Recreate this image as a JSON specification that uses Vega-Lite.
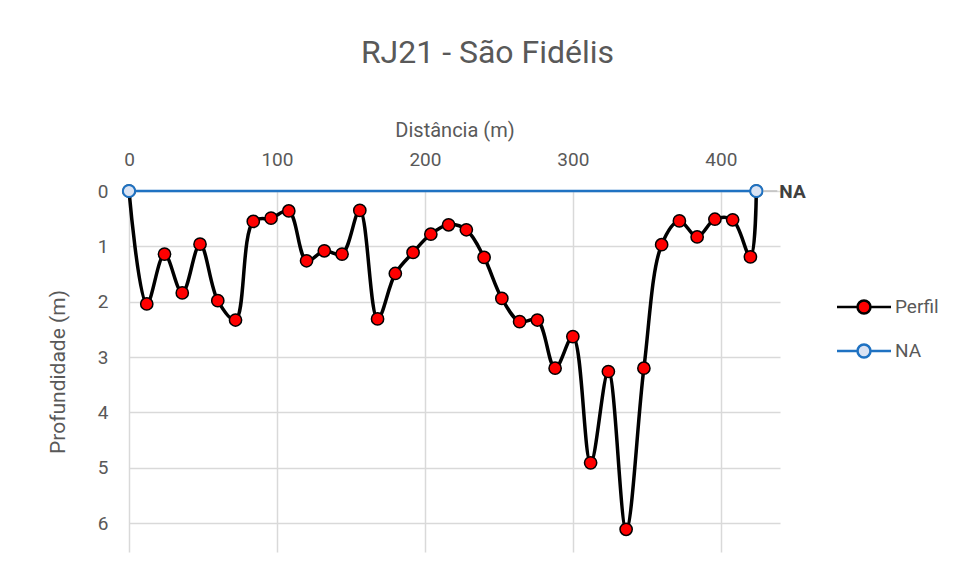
{
  "$schema": "https://vega.github.io/schema/vega-lite/v6.json",
  "width": 651,
  "height": 361,
  "autosize": {"type": "none"},
  "padding": {"left": 129, "top": 191, "right": 174, "bottom": 22},
  "background": "white",
  "title": {
    "text": "RJ21 - São Fidélis",
    "font": "Roboto",
    "fontSize": 32,
    "fontWeight": "normal",
    "color": "#595959",
    "anchor": "middle",
    "frame": "group",
    "dx": 33,
    "offset": 50
  },
  "config": {
    "view": {"stroke": null},
    "font": "Roboto"
  },
  "data": {
    "values": [
      {"serie": "Perfil", "d": 0, "p": 0},
      {"serie": "Perfil", "d": 12, "p": 2.04},
      {"serie": "Perfil", "d": 24, "p": 1.14},
      {"serie": "Perfil", "d": 36, "p": 1.84},
      {"serie": "Perfil", "d": 48, "p": 0.96},
      {"serie": "Perfil", "d": 60, "p": 1.98},
      {"serie": "Perfil", "d": 72, "p": 2.33},
      {"serie": "Perfil", "d": 84, "p": 0.55},
      {"serie": "Perfil", "d": 96, "p": 0.49},
      {"serie": "Perfil", "d": 108, "p": 0.36},
      {"serie": "Perfil", "d": 120, "p": 1.26},
      {"serie": "Perfil", "d": 132, "p": 1.08},
      {"serie": "Perfil", "d": 144, "p": 1.14},
      {"serie": "Perfil", "d": 156, "p": 0.35},
      {"serie": "Perfil", "d": 168, "p": 2.31},
      {"serie": "Perfil", "d": 180, "p": 1.49},
      {"serie": "Perfil", "d": 192, "p": 1.11},
      {"serie": "Perfil", "d": 204, "p": 0.78},
      {"serie": "Perfil", "d": 216, "p": 0.61},
      {"serie": "Perfil", "d": 228, "p": 0.7},
      {"serie": "Perfil", "d": 240, "p": 1.2},
      {"serie": "Perfil", "d": 252, "p": 1.94},
      {"serie": "Perfil", "d": 264, "p": 2.36},
      {"serie": "Perfil", "d": 276, "p": 2.33},
      {"serie": "Perfil", "d": 288, "p": 3.2},
      {"serie": "Perfil", "d": 300, "p": 2.63},
      {"serie": "Perfil", "d": 312, "p": 4.91},
      {"serie": "Perfil", "d": 324, "p": 3.26},
      {"serie": "Perfil", "d": 336, "p": 6.11},
      {"serie": "Perfil", "d": 348, "p": 3.2},
      {"serie": "Perfil", "d": 360, "p": 0.97},
      {"serie": "Perfil", "d": 372, "p": 0.54},
      {"serie": "Perfil", "d": 384, "p": 0.83},
      {"serie": "Perfil", "d": 396, "p": 0.51},
      {"serie": "Perfil", "d": 408, "p": 0.52},
      {"serie": "Perfil", "d": 420, "p": 1.19},
      {"serie": "Perfil", "d": 424, "p": 0},
      {"serie": "NA", "d": 0, "p": 0},
      {"serie": "NA", "d": 424, "p": 0}
    ]
  },
  "encoding": {
    "x": {
      "field": "d",
      "type": "quantitative",
      "scale": {"domain": [0, 440], "nice": false, "zero": false},
      "axis": {
        "orient": "top",
        "title": "Distância (m)",
        "values": [0, 100, 200, 300, 400],
        "ticks": false,
        "domain": false,
        "grid": true,
        "gridColor": "#d9d9d9",
        "gridWidth": 1.5,
        "labelFlush": false,
        "labelFont": "Roboto",
        "labelFontSize": 19,
        "labelColor": "#595959",
        "labelPadding": 22,
        "titleFont": "Roboto",
        "titleFontSize": 20,
        "titleFontWeight": "normal",
        "titleColor": "#595959",
        "titlePadding": 10
      }
    },
    "y": {
      "field": "p",
      "type": "quantitative",
      "scale": {"domain": [0, 6.52], "nice": false, "zero": false, "reverse": true},
      "axis": {
        "title": "Profundidade (m)",
        "values": [0, 1, 2, 3, 4, 5, 6],
        "ticks": false,
        "domain": false,
        "grid": true,
        "gridColor": "#d9d9d9",
        "gridWidth": 1.5,
        "labelFlush": false,
        "labelFont": "Roboto",
        "labelFontSize": 19,
        "labelColor": "#595959",
        "labelPadding": 21,
        "titleFont": "Roboto",
        "titleFontSize": 21,
        "titleFontWeight": "normal",
        "titleColor": "#595959",
        "titlePadding": 29
      }
    }
  },
  "layer": [
    {
      "transform": [{"filter": "datum.serie === 'Perfil'"}],
      "mark": {"type": "line", "interpolate": "catmull-rom", "strokeWidth": 3.5},
      "encoding": {
        "stroke": {
          "field": "serie",
          "type": "nominal",
          "scale": {"domain": ["Perfil", "NA"], "range": ["#000000", "#1f72c2"]},
          "legend": {
            "title": null,
            "orient": "none",
            "legendX": 720,
            "legendY": 101,
            "symbolType": "M-2,0L-0.48,0M0.48,0L2,0M0.48,0A0.48,0.48,0,1,1,-0.48,0A0.48,0.48,0,1,1,0.48,0Z",
            "symbolSize": 729,
            "symbolStrokeWidth": 2.5,
            "symbolOpacity": 1,
            "labelFont": "Roboto",
            "labelFontSize": 19,
            "labelColor": "#595959",
            "labelOffset": 16,
            "rowPadding": 17
          }
        }
      }
    },
    {
      "transform": [{"filter": "datum.serie === 'Perfil'"}],
      "mark": {"type": "point", "shape": "circle", "filled": true, "size": 150, "strokeWidth": 1.5, "opacity": 1},
      "encoding": {
        "stroke": {"field": "serie", "type": "nominal"},
        "fill": {
          "field": "serie",
          "type": "nominal",
          "scale": {"domain": ["Perfil", "NA"], "range": ["#ff0000", "#dae3f3"]}
        }
      }
    },
    {
      "transform": [{"filter": "datum.serie === 'NA'"}],
      "mark": {"type": "line", "strokeWidth": 2.5},
      "encoding": {
        "stroke": {"field": "serie", "type": "nominal"}
      }
    },
    {
      "transform": [{"filter": "datum.serie === 'NA'"}],
      "mark": {"type": "point", "shape": "circle", "filled": true, "size": 150, "strokeWidth": 2, "opacity": 1},
      "encoding": {
        "stroke": {"field": "serie", "type": "nominal"},
        "fill": {"field": "serie", "type": "nominal"}
      }
    },
    {
      "transform": [{"filter": "datum.serie === 'NA' && datum.d > 0"}],
      "mark": {"type": "rule", "color": "#bfbfbf", "strokeWidth": 1.5, "xOffset": 7, "x2Offset": 21},
      "encoding": {
        "x2": {"field": "d"}
      }
    },
    {
      "transform": [{"filter": "datum.serie === 'NA' && datum.d > 0"}],
      "mark": {"type": "text", "align": "left", "baseline": "middle", "dx": 23, "dy": 1, "font": "Roboto", "fontSize": 19, "fontWeight": "bold", "color": "#404040"},
      "encoding": {
        "text": {"field": "serie"}
      }
    }
  ]
}
